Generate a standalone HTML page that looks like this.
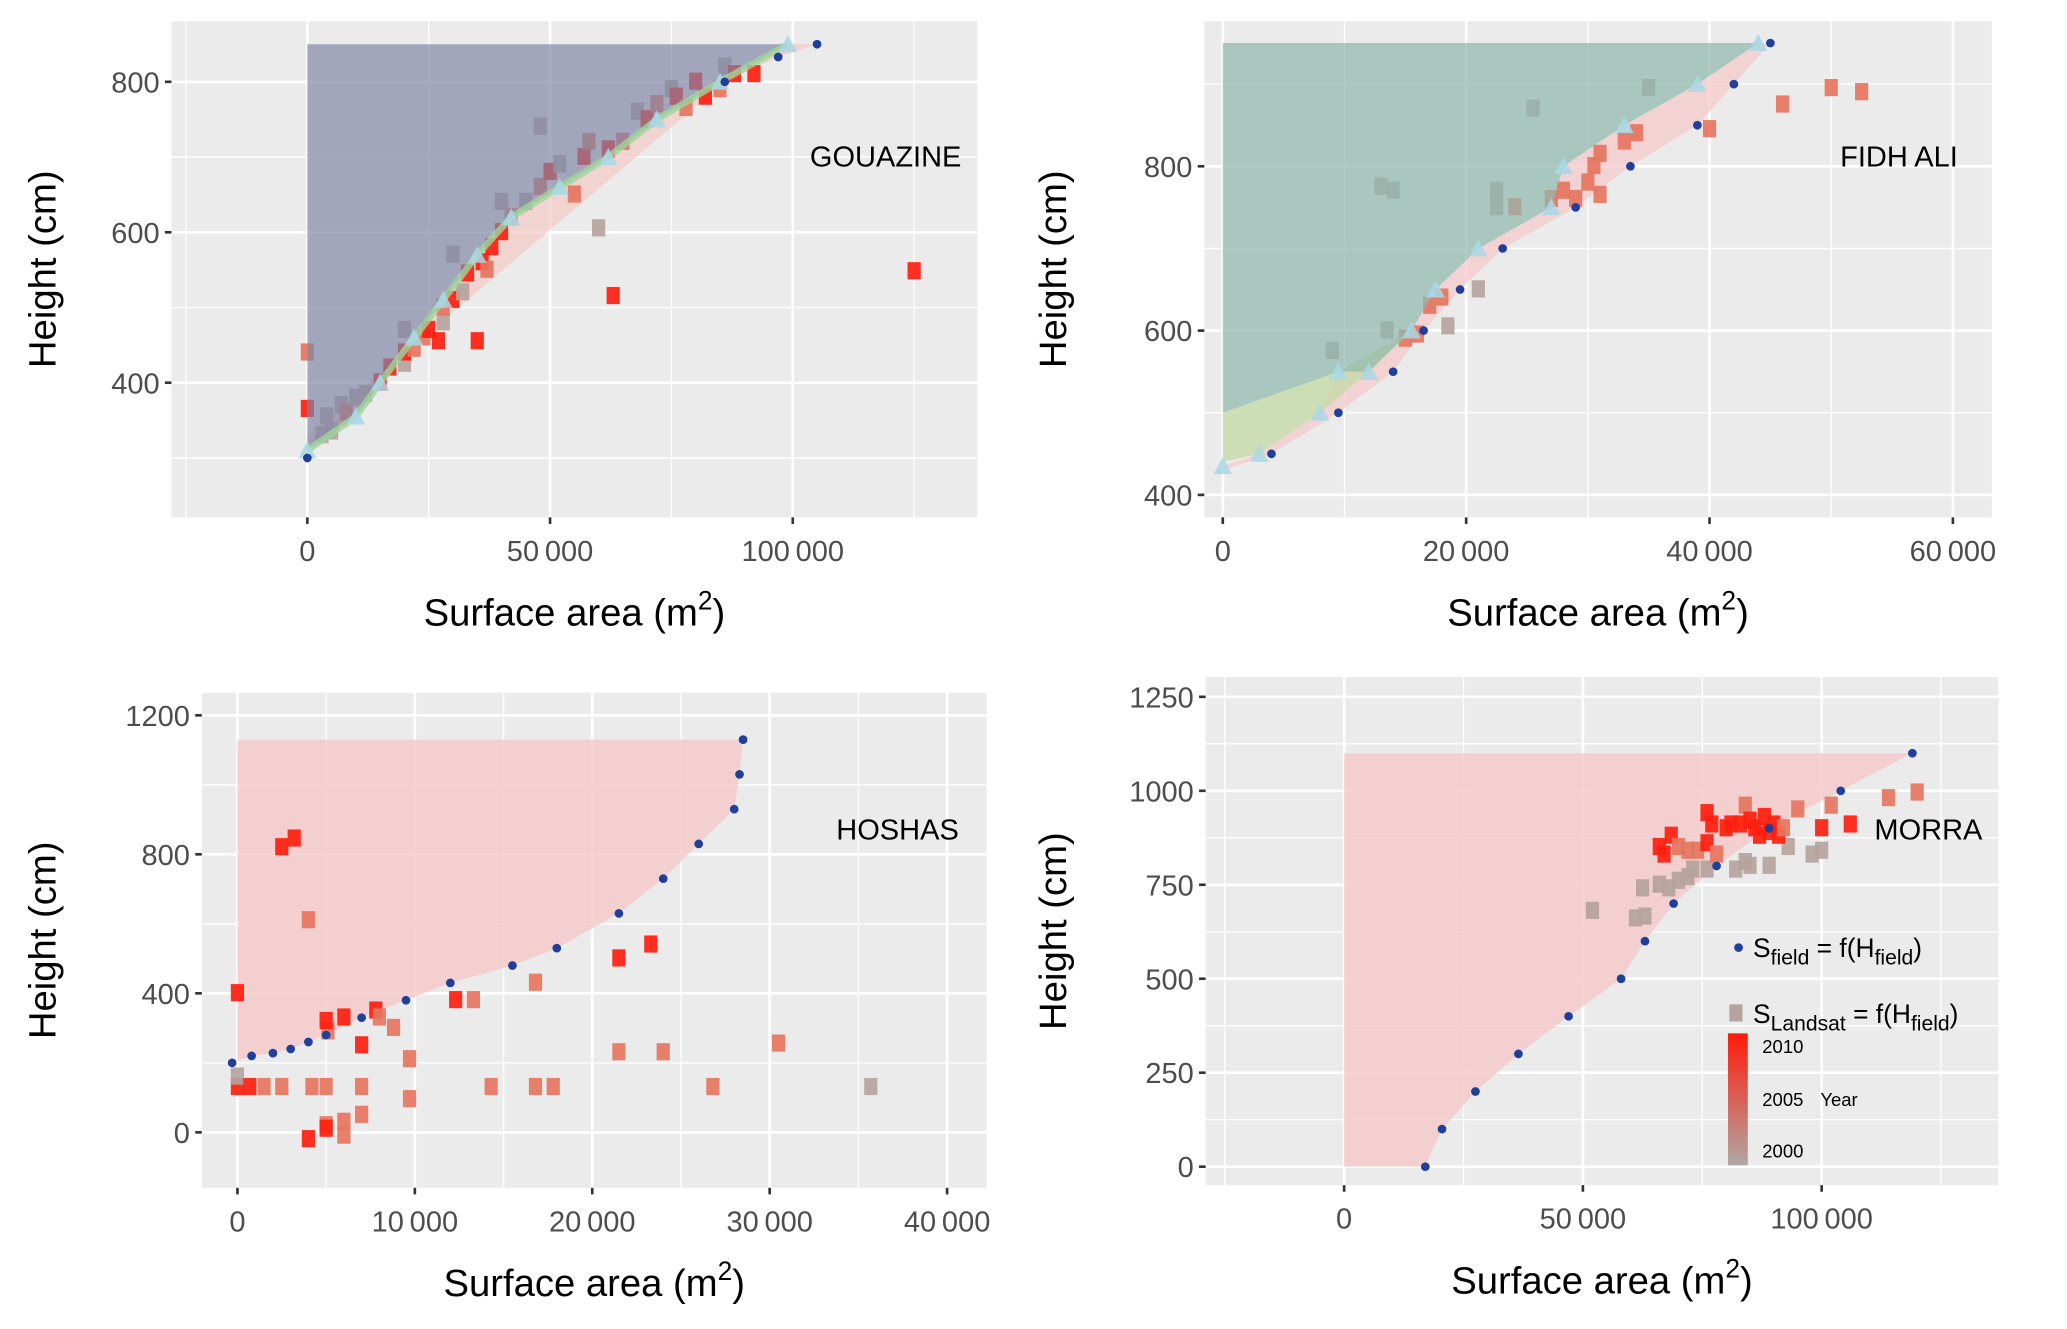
<!DOCTYPE html>
<html><head><meta charset="utf-8"><style>
html,body{margin:0;padding:0;background:#fff}
svg{display:block}
text{font-family:"Liberation Sans",sans-serif}
</style></head><body>
<svg id="fig" width="2067" height="1329" viewBox="0 0 1567 1007" preserveAspectRatio="none" xmlns="http://www.w3.org/2000/svg"></svg>
<script>
// ---------- DATA ----------
// GOUAZINE
const gField = [[0,300],[86000,800],[97000,833],[105000,850]];
const gCurve = [[0,310],[10000,355],[15000,400],[22000,460],[28000,510],[35000,570],[42000,620],[52000,660],[62000,700],[72000,750],[85000,800],[99000,850]];
const gSquares = [[0,440,'s'],[0,365,'r'],[3000,330,'g'],[5000,335,'g'],[4000,355,'g'],[7000,370,'g'],[8000,360,'s'],[10000,380,'g'],[12000,385,'g'],[15000,400,'r'],[17000,420,'r'],[20000,425,'g'],[20000,440,'r'],[22000,445,'s'],[24000,460,'s'],[25000,470,'r'],[27000,455,'r'],[28000,480,'g'],[28000,500,'s'],[30000,510,'r'],[32000,520,'g'],[33000,545,'r'],[35000,455,'r'],[36000,560,'r'],[37000,550,'s'],[38000,580,'r'],[40000,600,'r'],[42000,620,'s'],[45000,640,'g'],[48000,660,'s'],[50000,680,'r'],[52000,690,'g'],[55000,650,'s'],[57000,700,'r'],[58000,720,'s'],[60000,605,'g'],[62000,710,'r'],[63000,515,'r'],[65000,720,'s'],[68000,760,'g'],[70000,750,'r'],[72000,770,'s'],[75000,790,'g'],[76000,780,'r'],[78000,765,'s'],[80000,800,'r'],[82000,780,'r'],[85000,790,'s'],[86000,820,'g'],[88000,810,'r'],[92000,810,'r'],[48000,740,'g'],[125000,548,'r'],[20000,470,'g'],[30000,570,'g'],[40000,640,'g']];
// FIDH ALI
const fField = [[4000,450],[9500,500],[14000,550],[16500,600],[19500,650],[23000,700],[29000,750],[33500,800],[39000,850],[42000,900],[45000,950]];
const fTri = [[0,435],[3000,450],[8000,500],[9500,550],[12000,550],[15500,600],[17500,650],[21000,700],[27000,750],[28000,800],[33000,850],[39000,900],[44000,950]];
const fSquares = [[9000,575,'g'],[13000,775,'g'],[14000,770,'g'],[13500,600,'g'],[15000,590,'s'],[16000,595,'s'],[17000,630,'s'],[18000,640,'s'],[18500,605,'g'],[21000,650,'g'],[22500,750,'g'],[22500,760,'g'],[22500,770,'g'],[24000,750,'s'],[25500,870,'g'],[27000,760,'s'],[28000,770,'s'],[29000,760,'s'],[30000,780,'s'],[30500,800,'s'],[31000,815,'s'],[31000,765,'s'],[33000,830,'s'],[34000,840,'s'],[35000,895,'g'],[40000,845,'s'],[46000,875,'s'],[50000,895,'s'],[52500,890,'s']];
// HOSHAS
const hField = [[-300,200],[800,220],[2000,228],[3000,240],[4000,260],[5000,280],[7000,330],[9500,380],[12000,430],[15500,480],[18000,530],[21500,630],[24000,730],[26000,830],[28000,930],[28300,1030],[28500,1130]];
const hSquares = [[0,400,'r'],[0,130,'r'],[0,160,'g'],[700,130,'r'],[1500,130,'s'],[2500,130,'s'],[2500,820,'r'],[3200,845,'r'],[4000,610,'s'],[4200,130,'s'],[4000,-20,'r'],[5000,20,'s'],[5000,10,'r'],[5000,130,'s'],[5100,290,'s'],[5000,320,'r'],[6000,330,'r'],[6000,-10,'s'],[6000,30,'s'],[7000,250,'r'],[7000,50,'s'],[7000,130,'s'],[7800,350,'r'],[8000,330,'s'],[8800,300,'s'],[9700,210,'s'],[9700,95,'s'],[12300,380,'r'],[13300,380,'s'],[14300,130,'s'],[16800,430,'s'],[16800,130,'s'],[17800,130,'s'],[21500,500,'r'],[21500,230,'s'],[23300,540,'r'],[24000,230,'s'],[26800,130,'s'],[30500,255,'s'],[35700,130,'g']];
// MORRA
const mField = [[17000,0],[20500,100],[27500,200],[36500,300],[47000,400],[58000,500],[63000,600],[69000,700],[78000,800],[89000,900],[104000,1000],[119000,1100]];
const mSquares = [[52000,680,'g'],[61000,660,'g'],[63000,665,'g'],[62500,740,'g'],[66000,750,'g'],[68000,740,'g'],[70000,760,'g'],[72000,770,'g'],[73000,790,'g'],[76000,790,'g'],[82000,790,'g'],[84000,810,'g'],[85000,800,'g'],[89000,800,'g'],[93000,850,'g'],[98000,830,'g'],[100000,840,'g'],[66000,850,'r'],[67000,830,'r'],[68500,880,'r'],[70000,850,'s'],[72000,840,'s'],[74000,840,'s'],[76000,940,'r'],[76000,860,'r'],[77000,910,'r'],[78000,830,'s'],[80000,900,'r'],[81000,910,'r'],[83000,910,'r'],[84000,960,'s'],[85000,920,'r'],[86000,900,'r'],[87000,880,'r'],[88000,930,'r'],[89000,890,'r'],[90000,910,'r'],[91000,880,'r'],[92000,900,'s'],[95000,950,'s'],[100000,900,'r'],[102000,960,'s'],[106000,910,'r'],[114000,980,'s'],[120000,995,'s']];
const gXTicks=[0,50000,100000], gYTicks=[400,600,800];
const fXTicks=[0,20000,40000,60000], fYTicks=[400,600,800];
const hXTicks=[0,10000,20000,30000,40000], hYTicks=[0,400,800,1200];
const mXTicks=[0,50000,100000], mYTicks=[0,250,500,750,1000,1250];

// ---------- DRAWING ----------
const NS='http://www.w3.org/2000/svg';
const svg=document.getElementById('fig');
const COL={r:'#ff1e0e',s:'#e67560',g:'#b5a39d'};
function el(tag,attrs,parent){const e=document.createElementNS(NS,tag);for(const k in attrs)e.setAttribute(k,attrs[k]);(parent||svg).appendChild(e);return e;}
function fmt(v){return v>=10000?String(v).replace(/\B(?=(\d{3})+(?!\d))/g,'\u2009'):String(v);}
function panel(cfg){
  const g=el('g',{});
  
  
  const X=v=>cfg.x0px+(v-cfg.x0v)*cfg.xs, Y=v=>cfg.y0px-(v-cfg.y0v)*cfg.ys;
  const bg=el('rect',{x:cfg.L,y:cfg.T,width:cfg.R-cfg.L,height:cfg.B-cfg.T,fill:'#ebebeb'},g);
  
  
  const xst=cfg.xt[1]-cfg.xt[0], yst=cfg.yt[1]-cfg.yt[0];
  for(let v=cfg.xt[0]-xst*2;v<=cfg.xt[cfg.xt.length-1]+xst*2;v+=xst/2){const p=X(v);if(p>cfg.L&&p<cfg.R)el('line',{x1:p,x2:p,y1:cfg.T,y2:cfg.B,stroke:'#fff','stroke-width':(v%xst===0)?2:1},g);}
  for(let v=cfg.yt[0]-yst*2;v<=cfg.yt[cfg.yt.length-1]+yst*2;v+=yst/2){const p=Y(v);if(p>cfg.T&&p<cfg.B)el('line',{y1:p,y2:p,x1:cfg.L,x2:cfg.R,stroke:'#fff','stroke-width':(v%yst===0)?2:1},g);}
  const under=el('g',{},g);
  const pts=a=>a.map(p=>X(p[0])+','+Y(p[1])).join(' ');
  cfg.draw(g,X,Y,pts,under);
  cfg.xt.forEach(v=>{
    el('line',{x1:X(v),x2:X(v),y1:cfg.B,y2:cfg.B+5,stroke:'#333','stroke-width':2},g);
    const t=el('text',{x:X(v),y:cfg.B+33,'font-size':22,fill:'#4d4d4d','text-anchor':'middle'},g);t.textContent=fmt(v);
    
    
  });
  cfg.yt.forEach(v=>{
    el('line',{x1:cfg.L-5,x2:cfg.L,y1:Y(v),y2:Y(v),stroke:'#333','stroke-width':2},g);
    const t=el('text',{x:cfg.L-9,y:Y(v)+8,'font-size':22,fill:'#4d4d4d','text-anchor':'end'},g);t.textContent=fmt(v);
    
    
  });
  const xt=el('text',{x:(cfg.L+cfg.R)/2,y:cfg.B+82,'font-size':29,fill:'#000','text-anchor':'middle'},g);
  xt.innerHTML='Surface area (m<tspan dy="-12" font-size="20">2</tspan><tspan dy="12">)</tspan>';
  
  
  const yc=(cfg.T+cfg.B)/2;
  const yt=el('text',{x:cfg.ytx,y:yc,'font-size':29,fill:'#000','text-anchor':'middle',transform:`rotate(-90 ${cfg.ytx} ${yc})`},g);
  yt.textContent='Height (cm)';
  
  
  const lb=el('text',{x:cfg.lx,y:cfg.ly,'font-size':22,fill:'#000'},g);lb.textContent=cfg.label;
  
  
}
function squares(g,arr,X,Y){arr.forEach(d=>{const r=el('rect',{x:X(d[0])-5,y:Y(d[1])-7,width:10,height:13,fill:COL[d[2]],opacity:0.92},g);
  
  });}
function dots(g,arr,X,Y){arr.forEach(d=>{const c=el('circle',{cx:X(d[0]),cy:Y(d[1]),r:3.3,fill:'#1f3f9a'},g);
  
  });}
function tris(g,arr,X,Y){arr.forEach(d=>{const x=X(d[0]),y=Y(d[1]);const t=el('polygon',{points:`${x-7},${y+6} ${x+7},${y+6} ${x},${y-7}`,fill:'#a8d8e6',opacity:0.85},g);
  
  });}

panel({name:'panel-gouazine',L:130,R:741,T:16,B:392,x0px:233,x0v:0,xs:184/50000,y0px:62,y0v:800,ys:114/200,xt:gXTicks,yt:gYTicks,ytx:42,label:'GOUAZINE',lx:614,ly:126,
 draw:(g,X,Y,pts)=>{
  el('polygon',{points:pts([[0,330]].concat(gField.slice(1)).concat(gCurve.slice().reverse())),fill:'#f4c9c3',opacity:0.7},g);
  squares(g,gSquares,X,Y);
  const f=el('polygon',{points:pts([[0,850],[99000,850]].concat(gCurve.slice().reverse()).concat([[0,340]])),fill:'#7d84a5',opacity:0.68},g);
  
  
  el('polyline',{points:pts(gCurve),fill:'none',stroke:'#9fd49a','stroke-width':5,opacity:0.8},g);
  tris(g,gCurve,X,Y);dots(g,gField,X,Y);}});

panel({name:'panel-fidh-ali',L:913,R:1510,T:16,B:392,x0px:927,x0v:0,xs:184.5/20000,y0px:126,y0v:800,ys:249/400,xt:fXTicks,yt:fYTicks,ytx:808,label:'FIDH ALI',lx:1395,ly:126,
 draw:(g,X,Y,pts)=>{
  el('polygon',{points:pts([[0,430]].concat(fField).concat(fTri.slice().reverse())),fill:'#f4c9c9',opacity:0.75},g);
  squares(g,fSquares,X,Y);
  el('polygon',{points:pts([[0,440],[0,500],[9500,550],[15500,600],[12000,550],[8000,500],[3000,450]]),fill:'#c5d9a8',opacity:0.8},g);
  const f=el('polygon',{points:pts([[0,950],[44000,950]].concat(fTri.slice(4).reverse()).concat([[9500,550],[0,500]])),fill:'#8fb8ad',opacity:0.7},g);
  
  
  tris(g,fTri,X,Y);dots(g,fField,X,Y);}});

panel({name:'panel-hoshas',L:153,R:748,T:525,B:900,x0px:180,x0v:0,xs:134.5/10000,y0px:858,y0v:0,ys:316/1200,xt:hXTicks,yt:hYTicks,ytx:42,label:'HOSHAS',lx:634,ly:636,
 draw:(g,X,Y,pts)=>{
  const f=el('polygon',{points:pts([[0,1130],[28500,1130]].concat(hField.slice().reverse()).concat([[0,200]])),fill:'#f4caca',opacity:0.85},g);
  
  
  squares(g,hSquares,X,Y);dots(g,hField,X,Y);}});

panel({name:'panel-morra',L:914,R:1515,T:513,B:898,x0px:1019,x0v:0,xs:181/50000,y0px:884,y0v:0,ys:356/1250,xt:mXTicks,yt:mYTicks,ytx:808,label:'MORRA',lx:1421,ly:636,
 draw:(g,X,Y,pts)=>{
  const f=el('polygon',{points:pts([[0,1100]].concat(mField.slice().reverse()).concat([[0,0]])),fill:'#f4caca',opacity:0.85},g);
  
  
  squares(g,mSquares,X,Y);dots(g,mField,X,Y);
  const lg=el('g',{},g);
  
  
  el('circle',{cx:1318,cy:718,r:3.3,fill:'#1f3f9a'},lg);
  const t1=el('text',{x:1329,y:725,'font-size':20,fill:'#000'},lg);
  t1.innerHTML='S<tspan dy="6" font-size="16">field</tspan><tspan dy="-6"> = f(H</tspan><tspan dy="6" font-size="16">field</tspan><tspan dy="-6">)</tspan>';
  el('rect',{x:1311,y:761,width:10,height:13,fill:COL.g},lg);
  const t2=el('text',{x:1329,y:775,'font-size':20,fill:'#000'},lg);
  t2.innerHTML='S<tspan dy="6" font-size="16">Landsat</tspan><tspan dy="-6"> = f(H</tspan><tspan dy="6" font-size="16">field</tspan><tspan dy="-6">)</tspan>';
  const defs=el('defs',{},lg);const lgr=el('linearGradient',{id:'yr',x1:0,y1:0,x2:0,y2:1},defs);
  el('stop',{offset:0,'stop-color':'#ff1a0a'},lgr);el('stop',{offset:1,'stop-color':'#b0a8a6'},lgr);
  const cb=el('rect',{x:1310,y:783,width:15,height:100,fill:'url(#yr)'},lg);
  
  
  [['2010',798],['2005',838],['2000',877]].forEach(a=>{const t=el('text',{x:1336,y:a[1],'font-size':14,fill:'#000'},lg);t.textContent=a[0];});
  const yl=el('text',{x:1380,y:838,'font-size':14,fill:'#000'},lg);yl.textContent='Year';}});
</script>
</body></html>
